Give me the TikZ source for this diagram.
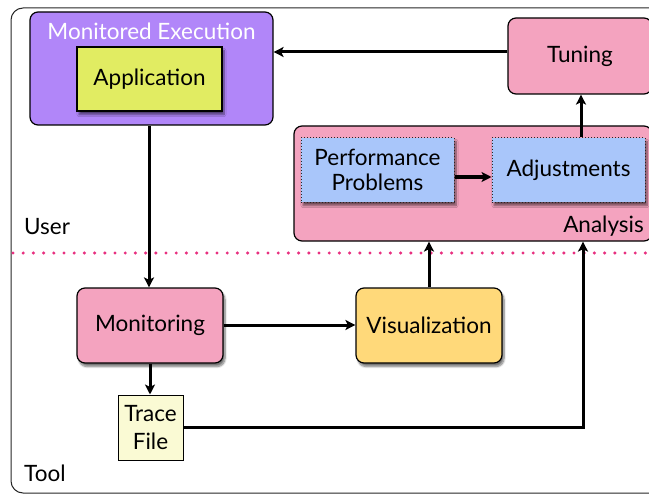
\documentclass[tikz,border=0pt]{standalone}
\usepackage{fontspec}
\setmainfont{Lato}
\usetikzlibrary{arrows.meta,shadows.blur}
\definecolor{execpurple}{RGB}{177,134,249}
\definecolor{appyellow}{RGB}{225,236,98}
\definecolor{boxpink}{RGB}{244,163,191}
\definecolor{boxblue}{RGB}{169,198,250}
\definecolor{visyellow}{RGB}{255,217,122}
\definecolor{tracecream}{RGB}{250,250,212}
\definecolor{dotpink}{RGB}{232,48,128}
\tikzset{
  txt/.style={font=\fontsize{22.5}{25}\selectfont},
  box/.style={draw=black, line width=1.2pt, rounded corners=8pt, align=center,
    txt, inner sep=0pt},
  shadowed/.style={blur shadow={shadow xshift=2pt, shadow yshift=-3.5pt,
    shadow blur steps=7, shadow opacity=55}},
  inner/.style={draw=black!85, line width=1pt, dotted, align=center,
    txt, inner sep=0pt},
  link/.style={line width=3pt, -{Stealth[length=10pt,width=10pt,inset=2.5pt]}},
  lbl/.style={txt, inner sep=0pt},
}
\begin{document}
\begin{tikzpicture}[x=1pt,y=-1pt]
\useasboundingbox (0,0) rectangle (649,495);
\begin{scope}
\clip (0,0) rectangle (649,495);
% outer frame
\draw[line width=1pt, rounded corners=12pt, black!85] (11,8) rectangle (700,493);

% user half
\node[box, fill=execpurple, minimum width=243pt, minimum height=113pt] (mexec) at (151.5,68.5) {};
\node[lbl, text=white, anchor=base] (mexect) at (151.5,40) {Monitored Execution};
\node[box, shadowed, rounded corners=0pt, fill=appyellow, minimum width=145pt, minimum height=64pt] (app) at (149.5,79) {Application};

\node[box, fill=boxpink, minimum width=144pt, minimum height=76pt] (tuning) at (580,56) {Tuning};
\node[box, fill=boxpink, minimum width=358pt, minimum height=115pt] (analysis) at (473,183.5) {};
\node[lbl, anchor=base east] (analysist) at (644,232) {Analysis};
\node[inner, shadowed, fill=boxblue, minimum width=153pt, minimum height=64pt] (perf) at (377.5,170) {Performance\\Problems};
\node[inner, shadowed, fill=boxblue, minimum width=153pt, minimum height=64pt] (adj) at (568.5,170) {Adjustments};

\node[lbl, anchor=base west] (user) at (24,234) {User};

% separator between the two halves
\draw[dotpink, line width=3.4pt, line cap=round, dash pattern=on 0pt off 10.2pt] (13,253) -- (652,253);

% tool half
\node[box, shadowed, fill=boxpink, minimum width=146pt, minimum height=75pt] (mon) at (150,325.5) {Monitoring};
\node[box, shadowed, fill=visyellow, minimum width=146pt, minimum height=75pt] (vis) at (429,325.5) {Visualization};
\node[box, rounded corners=0pt, line width=1pt, fill=tracecream, minimum width=65pt, minimum height=65pt,
  font=\fontsize{22.5}{28}\selectfont] (trace) at (150.5,427.5) {Trace\\File};
\node[lbl, anchor=base west] (tool) at (24,481) {Tool};

% connectors
\draw[link] (tuning.west |- 0,52) -- (mexec.east |- 0,52);
\draw[link] (adj.north -| 581,0) -- (tuning.south -| 581,0);
\draw[link] (perf.east |- 0,177) -- (adj.west |- 0,177);
\draw[link] (mexec.south -| 149,0) -- (mon.north -| 149,0);
\draw[link] (mon.east |- 0,325) -- (vis.west |- 0,325);
\draw[link] (mon.south -| 150,0) -- (trace.north -| 150,0);
\draw[link] (vis.north) -- (analysis.south -| vis.north);
\coordinate (bend) at (583,427);
\draw[link] (trace.east |- bend) -- (bend) -- (analysis.south -| bend);
\end{scope}
\end{tikzpicture}
\end{document}
